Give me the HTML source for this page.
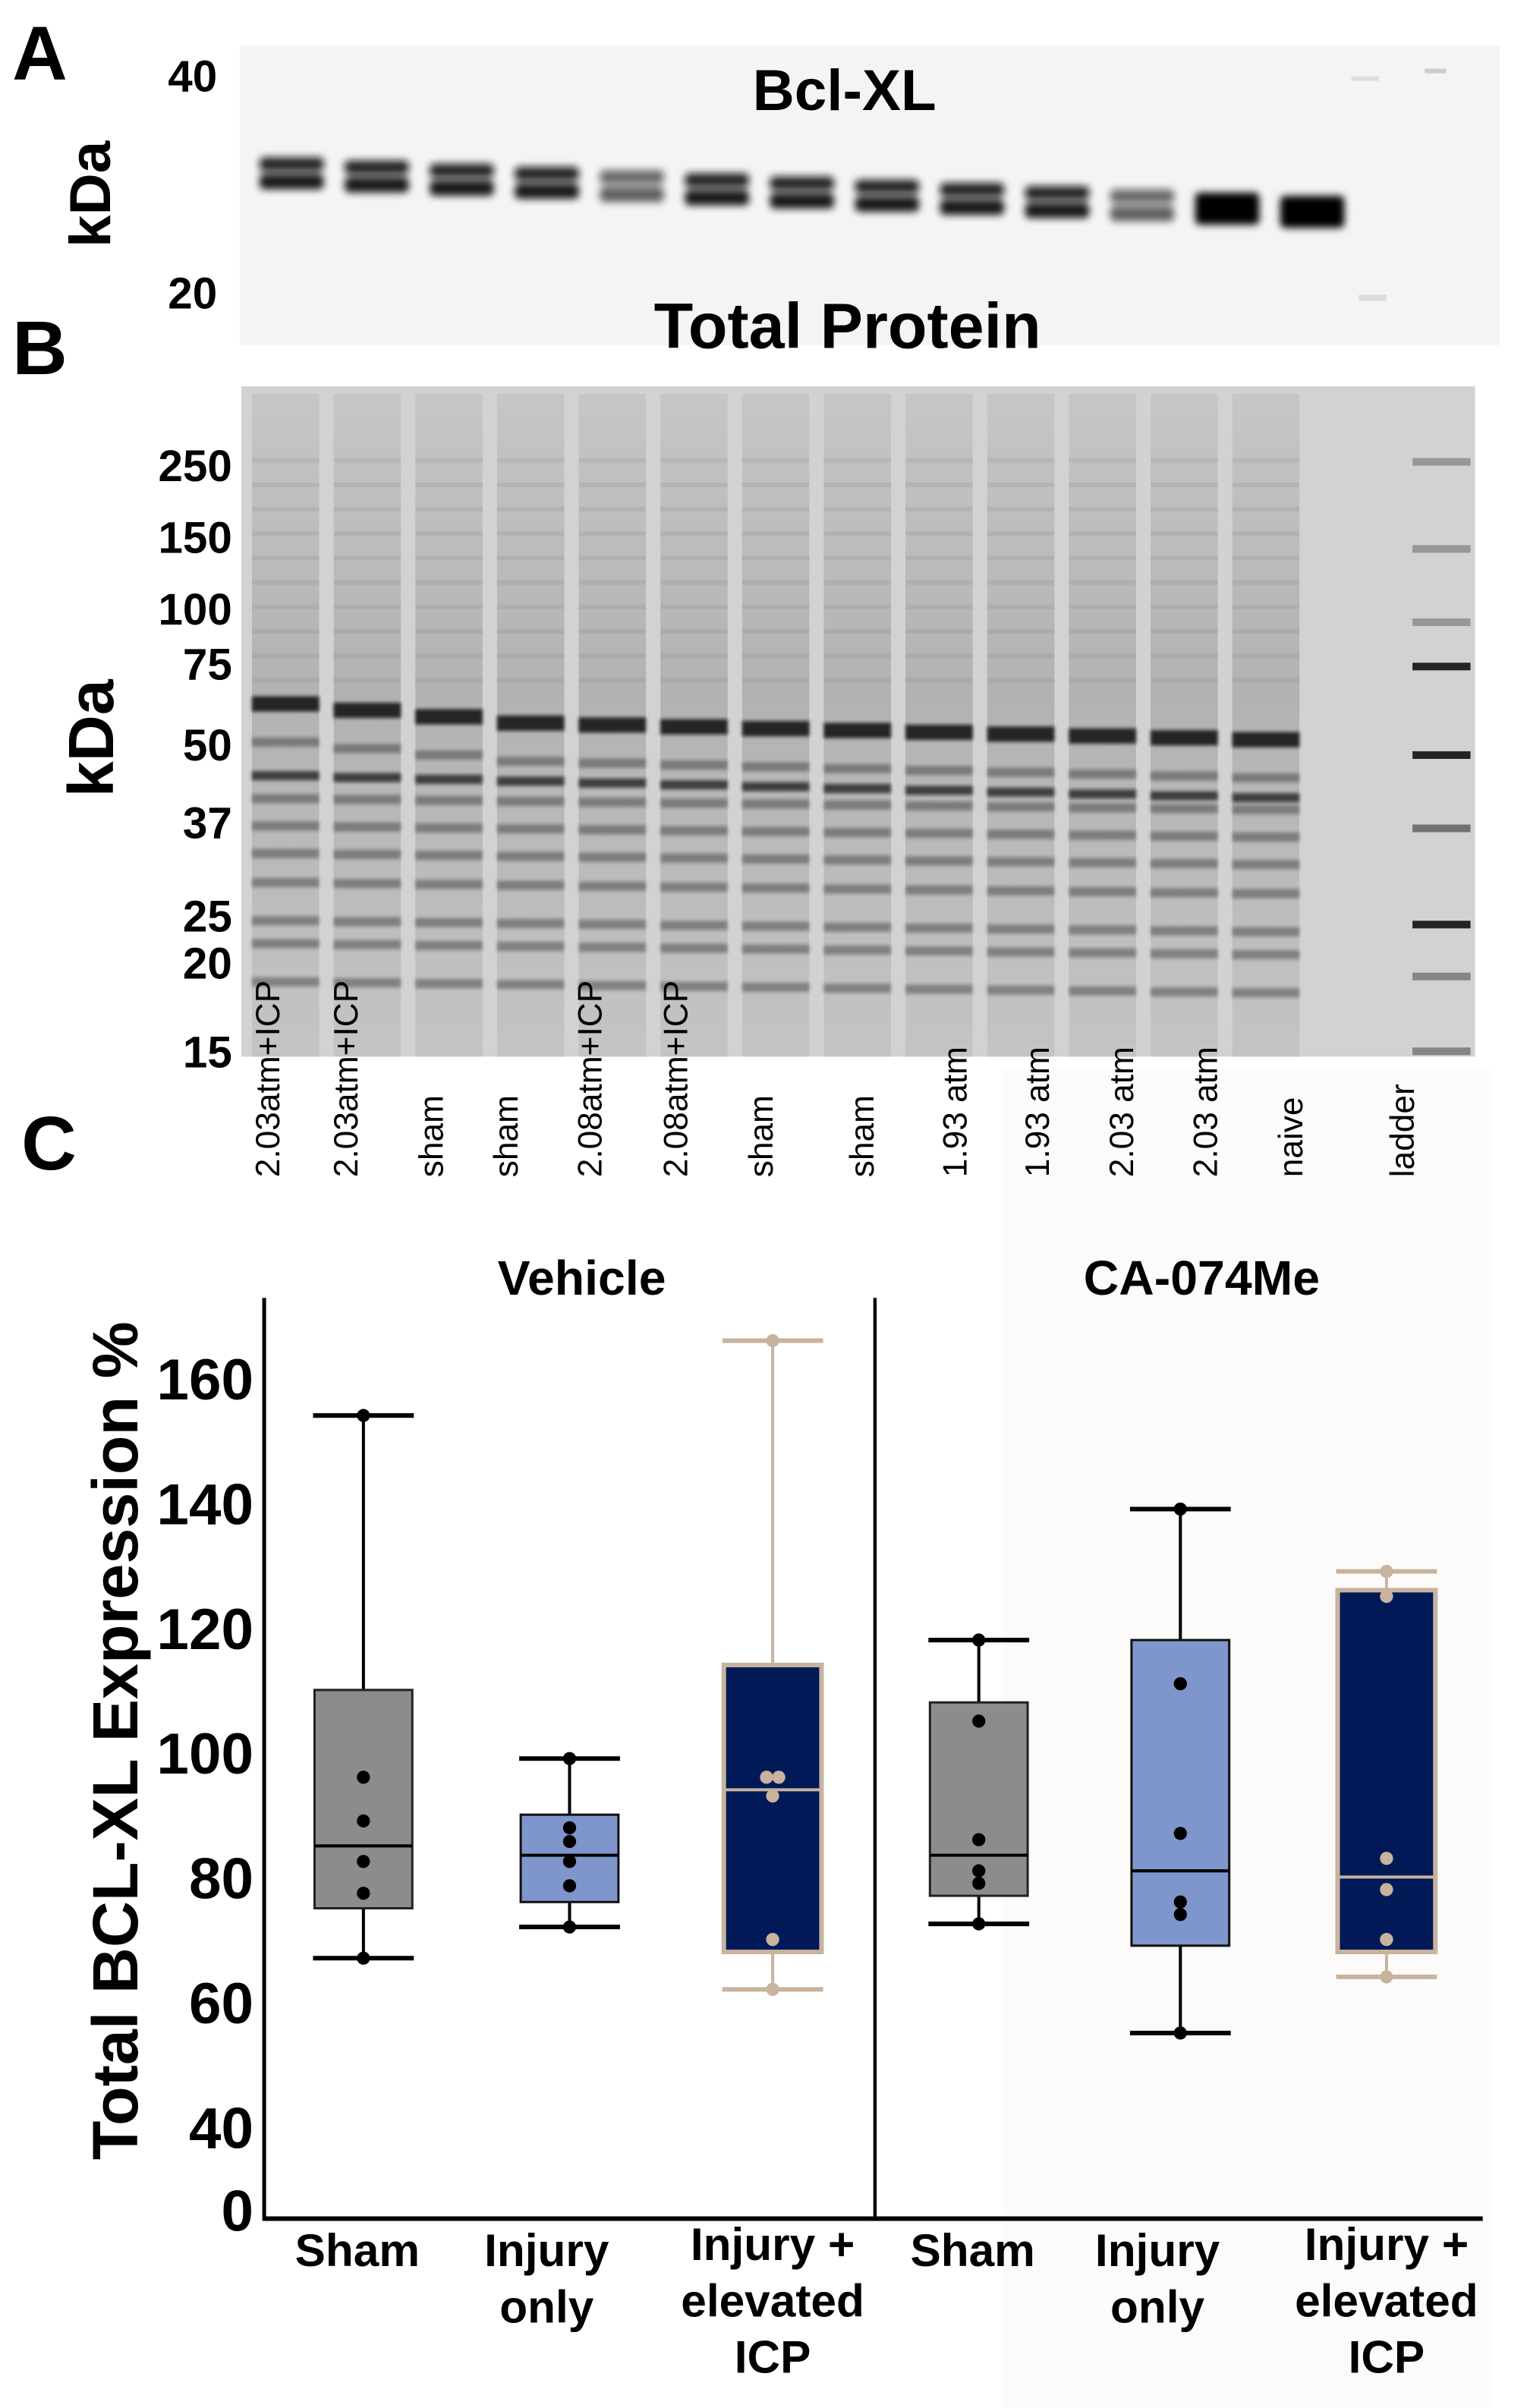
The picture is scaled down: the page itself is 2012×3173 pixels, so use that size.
<!DOCTYPE html>
<html><head><meta charset="utf-8"><style>
html,body{margin:0;padding:0;background:#fff;}
svg{display:block;font-family:"Liberation Sans",sans-serif;font-weight:bold;}
</style></head><body>
<svg id="fig" width="2012" height="3173" viewBox="0 0 1000 1577" preserveAspectRatio="none" xmlns="http://www.w3.org/2000/svg">
<defs>
<filter id="blur1" x="-20%" y="-50%" width="140%" height="200%"><feGaussianBlur stdDeviation="2.5"/></filter>
<filter id="blur2" x="-20%" y="-50%" width="140%" height="200%"><feGaussianBlur stdDeviation="1.2"/></filter>
<linearGradient id="laneGrad" x1="0" y1="0" x2="0" y2="1">
<stop offset="0" stop-color="#c6c6c6"/><stop offset="0.45" stop-color="#b2b2b2"/><stop offset="1" stop-color="#c4c4c4"/>
</linearGradient>
</defs>
<rect x="0" y="0" width="1000" height="1577" fill="#fff"/>
<rect x="657" y="700" width="320" height="877" fill="#fcfbfa"/>
<!-- Panel A -->
<text x="8" y="52" font-size="50">A</text>
<rect x="157" y="30" width="825" height="196" fill="#f4f4f4"/>
<g id="blotA"></g>
<text x="110" y="60" font-size="29">40</text>
<text x="110" y="202" font-size="29">20</text>
<text transform="translate(72,162) rotate(-90)" font-size="38">kDa</text>
<text x="553" y="72" font-size="38" text-anchor="middle">Bcl-XL</text>
<!-- Panel B -->
<text x="8" y="245" font-size="50">B</text>
<rect x="158" y="253" width="808" height="439" fill="#d2d2d2"/>
<g id="blotB"></g>
<text x="555" y="228" font-size="42" text-anchor="middle">Total Protein</text>
<g font-size="29" text-anchor="end">
<text x="152" y="315">250</text><text x="152" y="362">150</text><text x="152" y="409">100</text>
<text x="152" y="445">75</text><text x="152" y="498">50</text><text x="152" y="549">37</text>
<text x="152" y="610">25</text><text x="152" y="641">20</text><text x="152" y="699">15</text>
</g>
<text transform="translate(74,522) rotate(-90)" font-size="42">kDa</text>
<g id="laneLabels" font-size="22" font-weight="normal"></g>
<!-- Panel C -->
<text x="14" y="766" font-size="50">C</text>
<text x="381" y="848" font-size="32" text-anchor="middle">Vehicle</text>
<text x="787" y="848" font-size="32" text-anchor="middle">CA-074Me</text>
<text transform="translate(90,1140) rotate(-90)" font-size="42" text-anchor="middle">Total BCL-XL Expression %</text>
<g id="chart"></g>
</svg>
<script>
// ---- chart data ----
var groups = ['Sham','Injury only','Injury + elevated ICP','Sham','Injury only','Injury + elevated ICP'];
var whiskerMax = [154, 99, 166, 118, 139, 129];
var q3 = [110, 90, 114, 108, 118, 126];
var medians = [85, 83.5, 94, 83.5, 81, 80];
var q1 = [75, 76, 68, 77, 69, 68];
var whiskerMin = [67, 72, 62, 72.5, 55, 64];
var points = [[154,96,89,82.5,77.4,67],[99,87.9,85.7,82.5,78.6,72],[166,96,96,93,70,62],[118,105,86,81,79,72.5],[139,111,87,76,74,55],[129,125,83,78,70,64]];
var yTicks = [0,40,60,80,100,120,140,160];
var lanes = ['2.03atm+ICP','2.03atm+ICP','sham','sham','2.08atm+ICP','2.08atm+ICP','sham','sham','1.93 atm','1.93 atm','2.03 atm','2.03 atm','naive','ladder'];

var NS='http://www.w3.org/2000/svg';
function mk(tag, attrs, parent){var e=document.createElementNS(NS,tag);for(var k in attrs)e.setAttribute(k,attrs[k]);parent.appendChild(e);return e;}
function yScale(v){ if(v<40){ return 1447-(v/40)*(1447-1393);} return 1311-(v-60)*4.085; }
var xCenters=[238,373,506,641,773,908];
var fills=['#8c8c8c','#7f96cc','#011a57','#8c8c8c','#7f96cc','#011a57'];
var strokes=['#222','#111','#c8b39f','#222','#111','#c8b39f'];
var dotc=['#000','#000','#c8b39f','#000','#000','#c8b39f'];
var chart=document.getElementById('chart');
var ax=mk('line',{x1:173,y1:850,x2:173,y2:1454,stroke:'#000','stroke-width':2.5},chart);


var bx=mk('line',{x1:172,y1:1453,x2:971,y2:1453,stroke:'#000','stroke-width':3},chart);


var dv=mk('line',{x1:573,y1:850,x2:573,y2:1453,stroke:'#000','stroke-width':2.2},chart);


yTicks.forEach(function(t){
  var tx=mk('text',{x:166,y:yScale(t)+14,'font-size':38,'text-anchor':'end'},chart);
  tx.textContent=t;
  
  
});
groups.forEach(function(g,i){
  var cx=xCenters[i],w=64,gEl=mk('g',{},chart);
  
  
  var sc=strokes[i], wc=(i%3==2)?'#c8b39f':'#000';
  mk('line',{x1:cx,y1:yScale(whiskerMax[i]),x2:cx,y2:yScale(q3[i]),stroke:wc,'stroke-width':2},gEl);
  mk('line',{x1:cx,y1:yScale(q1[i]),x2:cx,y2:yScale(whiskerMin[i]),stroke:wc,'stroke-width':2},gEl);
  mk('line',{x1:cx-33,y1:yScale(whiskerMax[i]),x2:cx+33,y2:yScale(whiskerMax[i]),stroke:wc,'stroke-width':3},gEl);
  mk('line',{x1:cx-33,y1:yScale(whiskerMin[i]),x2:cx+33,y2:yScale(whiskerMin[i]),stroke:wc,'stroke-width':3},gEl);
  mk('rect',{x:cx-w/2,y:yScale(q3[i]),width:w,height:yScale(q1[i])-yScale(q3[i]),fill:fills[i],stroke:sc,'stroke-width':(i%3==2)?3:1.5},gEl);
  mk('line',{x1:cx-w/2,y1:yScale(medians[i]),x2:cx+w/2,y2:yScale(medians[i]),stroke:(i%3==2)?'#c8b39f':'#000','stroke-width':2},gEl);
  var seen={};
  points[i].forEach(function(p){
    var dx=cx;
    if(seen[p]){dx=cx+4;} else if(points[i].filter(function(q){return q===p;}).length>1){dx=cx-4;}
    seen[p]=1;
    var c=mk('circle',{cx:dx,cy:yScale(p),r:4.3,fill:dotc[i]},gEl);
    
    
  });
  var lines=g==='Sham'?['Sham']:(g==='Injury only'?['Injury','only']:['Injury +','elevated','ICP']);
  lines.forEach(function(l,k){
    var t=mk('text',{x:cx-(i%3==0?4:(i%3==1?15:0)),y:(lines.length==3?1480:1484)+k*37,'font-size':30,'text-anchor':'middle'},chart);
    t.textContent=l;
    
    
  });
});
// ---- blot A (decorative) ----
var A=document.getElementById('blotA');
for(var i=0;i<13;i++){
  var x=170+i*55.7, y=103+i*2.1, dark=(i==4||i==10)?0.6:(i>=11?1:0.9);
  var g=mk('g',{filter:'url(#blur1)',opacity:dark},A);
  mk('rect',{x:x,y:y,width:42,height:9,fill:'#111',rx:3},g);
  mk('rect',{x:x,y:y+11,width:42,height:10,fill:'#000',rx:3},g);
  if(i>=11) mk('rect',{x:x,y:y+3,width:42,height:18,fill:'#000',rx:4},g);
}
mk('rect',{x:885,y:50,width:18,height:3,fill:'#ddd'},A);
mk('rect',{x:933,y:45,width:14,height:3,fill:'#ccc'},A);
mk('rect',{x:890,y:193,width:18,height:4,fill:'#ddd'},A);
// ---- blot B (decorative) ----
var B=document.getElementById('blotB');
for(var i=0;i<13;i++){
  var x=165+i*53.5;
  mk('rect',{x:x,y:258,width:44,height:434,fill:'url(#laneGrad)'},B);
  var base=[465,492,505,520,538,556,575,600,615,640];
  base.forEach(function(by,k){
    var yy=by+i*(k<3?1.2:0.6)-(i<3?(k<2?(3-i)*3:0):0);
    var op=(k==0)?0.85:(k==2?0.7:0.35);
    mk('rect',{x:x,y:yy,width:44,height:k==0?10:6,fill:'#111',opacity:op,filter:'url(#blur2)'},B);
  });
  for(var k=0;k<10;k++){mk('rect',{x:x,y:300+k*16,width:44,height:3,fill:'#888',opacity:0.2},B);}
}
[ [300,0.3],[357,0.3],[405,0.3],[434,0.9],[492,0.9],[540,0.5],[603,0.9],[637,0.4],[686,0.4] ].forEach(function(b){
  mk('rect',{x:925,y:b[0],width:38,height:5,fill:'#111',opacity:b[1]},B);
});
var LL=document.getElementById('laneLabels');
var lx=[183,234,290,339,394,450,506,572,633,687,742,797,853,926];
lanes.forEach(function(l,i){
  var t=mk('text',{transform:'translate('+lx[i]+',771) rotate(-90)'},LL);
  t.textContent=l;
  
  
});
</script>
</body></html>
